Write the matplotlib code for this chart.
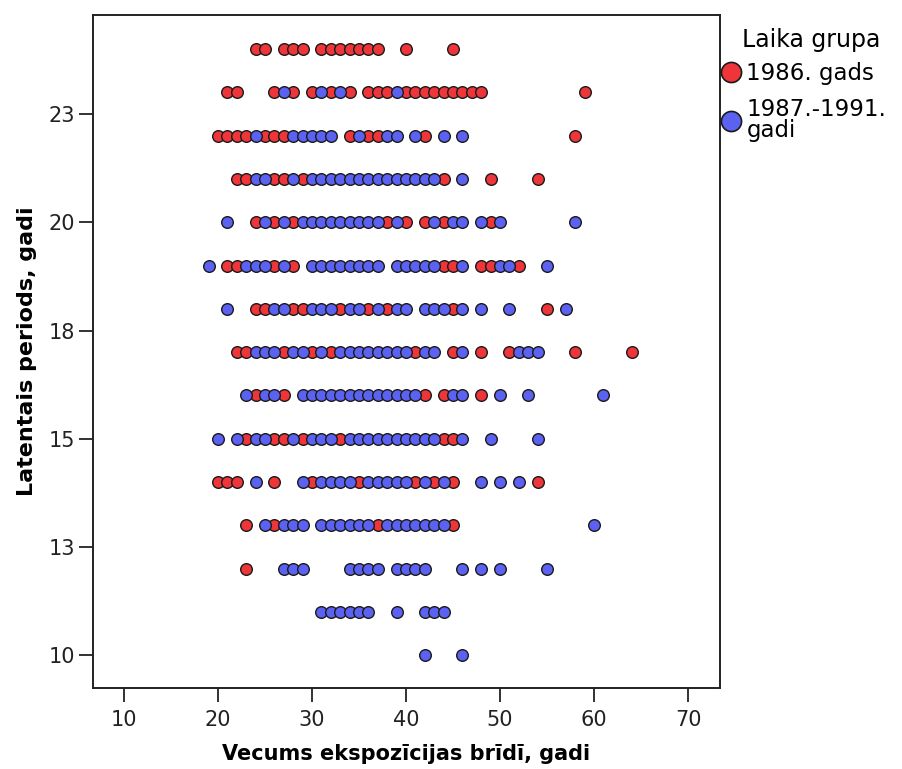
import matplotlib.pyplot as plt
from matplotlib.lines import Line2D

# Latent period rows (years) and the ages at exposure recorded in each row
latent_years = [24, 23, 22, 21, 20, 19, 18, 17, 16, 15, 14, 13, 12, 11, 10]

ages_1986 = [
    [24, 25, 27, 28, 29, 31, 32, 33, 34, 35, 36, 37, 40, 45],
    [21, 22, 26, 28, 30, 32, 34, 36, 37, 38, 40, 41, 42, 43, 44, 45, 46, 47, 48, 59],
    [20, 21, 22, 23, 25, 26, 27, 34, 36, 37, 42, 58],
    [22, 23, 26, 27, 29, 44, 49, 54],
    [24, 26, 28, 38, 40, 42, 44, 49],
    [21, 22, 26, 28, 44, 45, 48, 49, 52],
    [24, 25, 28, 29, 33, 36, 38, 45, 55],
    [22, 23, 27, 30, 32, 41, 45, 48, 51, 58, 64],
    [24, 27, 42, 44, 48],
    [23, 26, 27, 29, 33, 44, 45],
    [20, 21, 22, 26, 30, 35, 41, 43, 45, 54],
    [23, 26, 37, 45],
    [23],
    [],
    [],
]

ages_1987_91 = [
    [],
    [27, 31, 33, 39],
    [24, 28, 29, 30, 31, 32, 35, 38, 39, 41, 44, 46],
    [24, 25, 28, 30, 31, 32, 33, 34, 35, 36, 37, 38, 39, 40, 41, 42, 43, 46],
    [21, 25, 27, 29, 30, 31, 32, 33, 34, 35, 36, 37, 39, 43, 45, 46, 48, 50, 58],
    [19, 23, 24, 25, 27, 30, 31, 32, 33, 34, 35, 36, 37, 39, 40, 41, 42, 43,
     46, 50, 51, 55],
    [21, 26, 27, 30, 31, 32, 34, 35, 37, 39, 40, 42, 43, 44, 46, 48, 51, 57],
    [24, 25, 26, 28, 29, 31, 33, 34, 35, 36, 37, 38, 39, 40, 42, 43, 46, 52,
     53, 54],
    [23, 25, 26, 29, 30, 31, 32, 33, 34, 35, 36, 37, 38, 39, 40, 41, 45, 46,
     50, 53, 61],
    [20, 22, 24, 25, 28, 30, 31, 32, 34, 35, 36, 37, 38, 39, 40, 41, 42, 43,
     46, 49, 54],
    [24, 29, 31, 32, 33, 34, 36, 37, 38, 39, 40, 42, 44, 48, 50, 52],
    [25, 27, 28, 29, 31, 32, 33, 34, 35, 36, 38, 39, 40, 41, 42, 43, 44, 60],
    [27, 28, 29, 34, 35, 36, 37, 39, 40, 41, 42, 46, 48, 50, 55],
    [31, 32, 33, 34, 35, 36, 39, 42, 43, 44],
    [42, 46],
]

group_labels = ['1986. gads', '1987.-1991.\ngadi']
group_colors = ['#ee3539', '#5b62f2']

y_ticks = [10, 12.5, 15, 17.5, 20, 22.5]
y_tick_labels = ['10', '13', '15', '18', '20', '23']
x_ticks = [10, 20, 30, 40, 50, 60, 70]


def flatten(rows):
    xs, ys = [], []
    for year, ages in zip(latent_years, rows):
        xs += ages
        ys += [year] * len(ages)
    return xs, ys


fig = plt.figure(figsize=(9.03, 7.69), dpi=100)
ax = fig.add_axes([93 / 903, 1 - 688 / 769, 627 / 903, 673 / 769])

for rows, color in zip([ages_1986, ages_1987_91], group_colors):
    xs, ys = flatten(rows)
    ax.scatter(xs, ys, s=70, c=color, edgecolors='#1a1a1a', linewidths=1.0,
               zorder=3)

ax.set_xlim(6.7, 73.4)
ax.set_ylim(9.24, 24.79)
ax.set_xticks(x_ticks)
ax.set_yticks(y_ticks)
ax.set_yticklabels(y_tick_labels)
ax.tick_params(axis='both', direction='out', length=10, width=1.3,
               colors='#222222', labelsize=15)
ax.tick_params(axis='x', pad=6)
ax.tick_params(axis='y', pad=3)
for spine in ax.spines.values():
    spine.set_linewidth(1.4)
    spine.set_color('#222222')

ax.set_xlabel('Vecums ekspozīcijas brīdī, gadi', fontsize=15,
              fontweight='bold', labelpad=10)
ax.set_ylabel('Latentais periods, gadi', fontsize=16, fontweight='bold',
              labelpad=8)

# legend sits just right of the plot frame, title drawn separately
ax.text((742 - 93) / 627, (688 - 40) / 673, 'Laika grupa', fontsize=17,
        ha='left', va='center', transform=ax.transAxes, clip_on=False)

handles = [Line2D([], [], marker='o', linestyle='none', markersize=14.5,
                  markerfacecolor=c, markeredgecolor='#1a1a1a',
                  markeredgewidth=1.2) for c in group_colors]
leg = ax.legend(handles, group_labels, loc='upper left',
                bbox_to_anchor=(1.0, (688 - 62) / 673), frameon=False,
                fontsize=16.5, handletextpad=0.2, borderaxespad=0,
                borderpad=0, handlelength=0.95, labelspacing=0.55)
for t in leg.get_texts():
    t.set_linespacing(0.9)

plt.savefig('out.png', dpi=100)
